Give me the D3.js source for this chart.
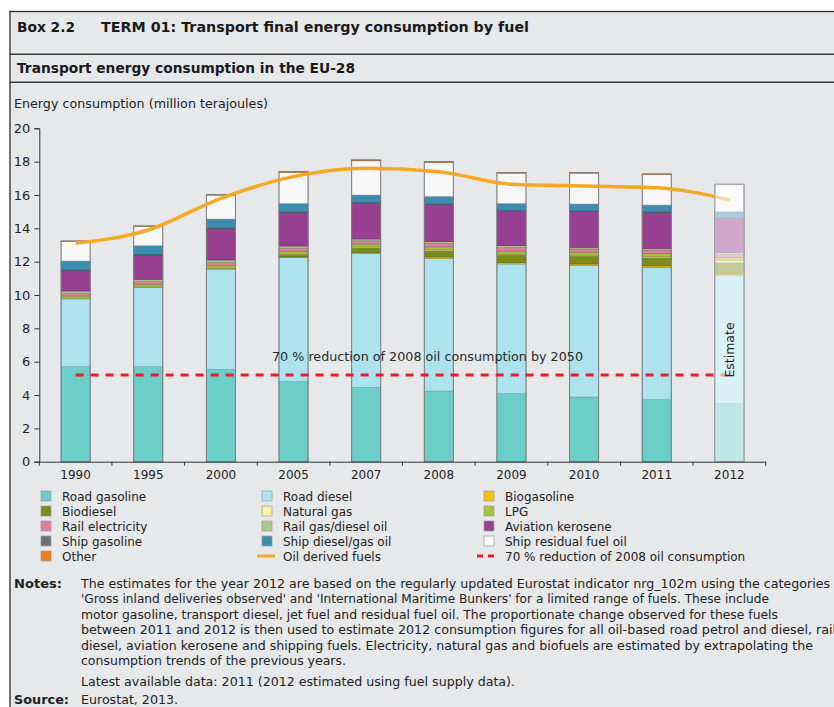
<!DOCTYPE html>
<html>
<head>
<meta charset="utf-8">
<script src="https://cdn.jsdelivr.net/npm/d3@7"></script>
<style>
  body { margin: 0; background: #fff; }
  svg { display: block; font-family: "DejaVu Sans", Verdana, sans-serif; }
</style>
</head>
<body>
<div id="chart"></div>
<script>
// categories
var years = ["1990", "1995", "2000", "2005", "2007", "2008", "2009", "2010", "2011", "2012"];

// series values (million terajoules)
var roadGasoline    = [5.70, 5.70, 5.54, 4.80, 4.46, 4.24, 4.08, 3.88, 3.72, 3.50];
var roadDiesel      = [4.06, 4.76, 6.02, 7.44, 8.04, 7.96, 7.78, 7.88, 7.94, 7.68];
var biogasoline     = [0.00, 0.00, 0.00, 0.04, 0.05, 0.08, 0.09, 0.10, 0.09, 0.08];
var biodiesel       = [0.00, 0.01, 0.02, 0.12, 0.30, 0.38, 0.45, 0.48, 0.50, 0.70];
var naturalGas      = [0.02, 0.02, 0.03, 0.04, 0.04, 0.05, 0.05, 0.05, 0.06, 0.10];
var lpg             = [0.16, 0.16, 0.17, 0.18, 0.17, 0.18, 0.19, 0.18, 0.19, 0.20];
var railElectricity = [0.15, 0.16, 0.18, 0.19, 0.19, 0.20, 0.20, 0.19, 0.20, 0.18];
var railDiesel      = [0.15, 0.13, 0.14, 0.13, 0.11, 0.11, 0.12, 0.10, 0.10, 0.10];
var aviation        = [1.24, 1.46, 1.90, 2.02, 2.18, 2.24, 2.10, 2.16, 2.16, 2.06];
var shipGasoline    = [0.02, 0.02, 0.02, 0.02, 0.02, 0.02, 0.02, 0.02, 0.02, 0.02];
var shipDiesel      = [0.54, 0.54, 0.54, 0.52, 0.44, 0.46, 0.42, 0.42, 0.42, 0.38];
var shipResidual    = [1.17, 1.15, 1.43, 1.86, 2.05, 2.03, 1.81, 1.85, 1.83, 1.62];
var other           = [0.03, 0.03, 0.03, 0.04, 0.05, 0.05, 0.03, 0.03, 0.03, 0.02];

var oilDerived = [13.1, 13.9, 15.8, 17.1, 17.6, 17.4, 16.64, 16.54, 16.44, 15.7];
var reduction2050 = 5.2;

var yTicks = [0, 2, 4, 6, 8, 10, 12, 14, 16, 18, 20];

var seriesNames = ["Road gasoline", "Road diesel", "Biogasoline", "Biodiesel", "Natural gas", "LPG",
  "Rail electricity", "Rail gas/diesel oil", "Aviation kerosene", "Ship gasoline",
  "Ship diesel/gas oil", "Ship residual fuel oil", "Other"];
var seriesValues = [roadGasoline, roadDiesel, biogasoline, biodiesel, naturalGas, lpg,
  railElectricity, railDiesel, aviation, shipGasoline, shipDiesel, shipResidual, other];
var seriesColors = ["#6dcdc9", "#ace3ee", "#f2c200", "#7b8b1f", "#faf3a2", "#a6c23c",
  "#e27ca3", "#a9c78f", "#973f91", "#6f6f73", "#3c8db0", "#f7f7f8", "#ee7d1e"];

var notes = [
  "The estimates for the year 2012 are based on the regularly updated Eurostat indicator nrg_102m using the categories",
  "'Gross inland deliveries observed' and 'International Maritime Bunkers' for a limited range of fuels. These include",
  "motor gasoline, transport diesel, jet fuel and residual fuel oil. The proportionate change observed for these fuels",
  "between 2011 and 2012 is then used to estimate 2012 consumption figures for all oil-based road petrol and diesel, rail",
  "diesel, aviation kerosene and shipping fuels. Electricity, natural gas and biofuels are estimated by extrapolating the",
  "consumption trends of the previous years."
];
var noteWidths = [749, 688, 697, 755, 732, 265];

var width = 834, height = 707;
var svg = d3.select("#chart").append("svg")
  .attr("width", width)
  .attr("height", height);

// box frame
svg.append("rect").attr("x", 10).attr("y", 11.5).attr("width", 840).attr("height", 720)
  .attr("fill", "#e7e8ea").attr("stroke", "#2b2b2b").attr("stroke-width", 1.3);
[54.3, 82.3].forEach(function (y) {
  svg.append("line").attr("x1", 10).attr("x2", 840).attr("y1", y).attr("y2", y)
    .attr("stroke", "#3a3a3a").attr("stroke-width", 1.5);
});

// header texts
svg.append("text").attr("x", 17).attr("y", 31.5).attr("font-size", 14).attr("font-weight", "bold")
  .attr("fill", "#1a1a1a").attr("textLength", 58).attr("lengthAdjust", "spacingAndGlyphs").text("Box 2.2");
svg.append("text").attr("x", 101).attr("y", 31.5).attr("font-size", 14).attr("font-weight", "bold")
  .attr("fill", "#1a1a1a").attr("textLength", 428).attr("lengthAdjust", "spacingAndGlyphs")
  .text("TERM 01: Transport final energy consumption by fuel");
svg.append("text").attr("x", 17).attr("y", 73).attr("font-size", 14).attr("font-weight", "bold")
  .attr("fill", "#1a1a1a").attr("textLength", 338).attr("lengthAdjust", "spacingAndGlyphs")
  .text("Transport energy consumption in the EU-28");
svg.append("text").attr("x", 14).attr("y", 108).attr("font-size", 12.5)
  .attr("fill", "#222").attr("textLength", 254).attr("lengthAdjust", "spacingAndGlyphs")
  .text("Energy consumption (million terajoules)");

// scales
var x = d3.scaleBand().domain(years).range([39.3, 765.7]).paddingInner(0.6).paddingOuter(0.3);
var y = d3.scaleLinear().domain([0, 20]).range([461.7, 128.3]);

// stacked data
var table = years.map(function (yr, i) {
  var row = {year: yr};
  seriesNames.forEach(function (name, k) { row[name] = seriesValues[k][i]; });
  return row;
});
var stack = d3.stack().keys(seriesNames)(table);
var color = d3.scaleOrdinal().domain(seriesNames).range(seriesColors);

var plot = svg.append("g");

stack.forEach(function (layer) {
  plot.append("g").selectAll("rect")
    .data(layer)
    .enter().append("rect")
      .attr("x", function (d) { return x(d.data.year); })
      .attr("y", function (d) { return y(d[1]); })
      .attr("width", x.bandwidth())
      .attr("height", function (d) { return Math.max(0, y(d[0]) - y(d[1])); })
      .attr("fill", color(layer.key))
      .attr("stroke", d3.color(color(layer.key)).darker(0.9))
      .attr("stroke-width", 0.6);
});

// bar outlines
plot.append("g").selectAll("rect")
  .data(table)
  .enter().append("rect")
    .attr("x", function (d) { return x(d.year); })
    .attr("y", function (d) { return y(d3.sum(seriesNames, function (n) { return d[n]; })); })
    .attr("width", x.bandwidth())
    .attr("height", function (d) { return y(0) - y(d3.sum(seriesNames, function (n) { return d[n]; })); })
    .attr("fill", "none")
    .attr("stroke", "#7d7d80")
    .attr("stroke-width", 1);

var cx = function (yr) { return x(yr) + x.bandwidth() / 2; };

// 70 % reduction line
plot.append("line")
  .attr("x1", cx(years[0])).attr("x2", cx(years[years.length - 1]))
  .attr("y1", y(reduction2050)).attr("y2", y(reduction2050))
  .attr("stroke", "#ea1c24").attr("stroke-width", 3)
  .attr("stroke-dasharray", "8,7");

// oil derived fuels line
var line = d3.line()
  .x(function (d, i) { return cx(years[i]); })
  .y(function (d) { return y(d); })
  .curve(d3.curveMonotoneX);
plot.append("path")
  .datum(oilDerived)
  .attr("d", line)
  .attr("fill", "none")
  .attr("stroke", "#f7a823")
  .attr("stroke-width", 3.5);

// estimate overlay on the 2012 bar
var last = table[table.length - 1];
var lastTotal = d3.sum(seriesNames, function (n) { return last[n]; });
plot.append("rect")
  .attr("x", x("2012")).attr("y", y(lastTotal))
  .attr("width", x.bandwidth()).attr("height", y(0) - y(lastTotal))
  .attr("fill", "#ffffff").attr("fill-opacity", 0.55)
  .attr("stroke", "#a9a9ad").attr("stroke-width", 1);
plot.append("text")
  .attr("transform", "translate(" + (cx("2012") + 4.5) + "," + y(6.7) + ") rotate(-90)")
  .attr("text-anchor", "middle")
  .attr("font-size", 12.5)
  .attr("fill", "#222")
  .text("Estimate");

plot.append("text")
  .attr("x", 272).attr("y", 361)
  .attr("font-size", 12.5).attr("fill", "#2a2a2a")
  .attr("textLength", 311).attr("lengthAdjust", "spacingAndGlyphs")
  .text("70 % reduction of 2008 oil consumption by 2050");

// y axis
var yAxis = svg.append("g")
  .attr("transform", "translate(39.3,0)")
  .call(d3.axisLeft(y).tickValues(yTicks).tickSize(5).tickPadding(4));
yAxis.select(".domain").attr("stroke", "#333");
yAxis.selectAll(".tick line").attr("stroke", "#333");
yAxis.selectAll(".tick text").attr("font-size", 13).attr("fill", "#222")
  .attr("font-family", "DejaVu Sans, Verdana, sans-serif");

// x axis: labels under the bars, tick marks between them
var xAxis = svg.append("g")
  .attr("transform", "translate(0," + y(0) + ")")
  .call(d3.axisBottom(x).tickSize(0).tickPadding(9).tickSizeOuter(0));
xAxis.select(".domain").attr("stroke", "#333");
xAxis.selectAll(".tick text").attr("font-size", 12).attr("fill", "#222")
  .attr("font-family", "DejaVu Sans, Verdana, sans-serif");
var bounds = years.map(function (yr) { return x(yr) - x.step() * x.paddingInner() / 2; });
bounds.push(x.range()[1]);
xAxis.selectAll("line.sep")
  .data(bounds)
  .enter().append("line")
    .attr("class", "sep")
    .attr("x1", function (d) { return d; }).attr("x2", function (d) { return d; })
    .attr("y1", 0).attr("y2", 4)
    .attr("stroke", "#333");

// legend
var legendItems = [
  {name: "Road gasoline", type: "box"}, {name: "Road diesel", type: "box"}, {name: "Biogasoline", type: "box"},
  {name: "Biodiesel", type: "box"}, {name: "Natural gas", type: "box"}, {name: "LPG", type: "box"},
  {name: "Rail electricity", type: "box"}, {name: "Rail gas/diesel oil", type: "box"}, {name: "Aviation kerosene", type: "box"},
  {name: "Ship gasoline", type: "box"}, {name: "Ship diesel/gas oil", type: "box"}, {name: "Ship residual fuel oil", type: "box"},
  {name: "Other", type: "box"}, {name: "Oil derived fuels", type: "line"},
  {name: "70 % reduction of 2008 oil consumption", type: "dash"}
];
var colX = [46, 267, 489];
var legend = svg.append("g");
var item = legend.selectAll("g")
  .data(legendItems)
  .enter().append("g")
    .attr("transform", function (d, i) {
      return "translate(" + colX[i % 3] + "," + (496 + Math.floor(i / 3) * 15) + ")";
    });
item.filter(function (d) { return d.type === "box"; })
  .append("rect")
    .attr("x", -5).attr("y", -5).attr("width", 10).attr("height", 10)
    .attr("fill", function (d) { return color(d.name); })
    .attr("stroke", "#9a9a9a").attr("stroke-width", 0.7);
item.filter(function (d) { return d.type === "line"; })
  .append("line")
    .attr("x1", -10).attr("x2", 8).attr("y1", 0).attr("y2", 0)
    .attr("stroke", "#f7a823").attr("stroke-width", 3);
item.filter(function (d) { return d.type === "dash"; })
  .append("line")
    .attr("x1", -12).attr("x2", 10).attr("y1", 0).attr("y2", 0)
    .attr("stroke", "#ea1c24").attr("stroke-width", 3).attr("stroke-dasharray", "6,5");
item.append("text")
  .attr("x", 16).attr("y", 4.5)
  .attr("font-size", 12).attr("fill", "#222")
  .text(function (d) { return d.name; });

// notes and source
svg.append("text").attr("x", 14).attr("y", 587.5).attr("font-size", 12.5).attr("font-weight", "bold")
  .attr("fill", "#222").attr("textLength", 48).attr("lengthAdjust", "spacingAndGlyphs").text("Notes:");
svg.append("g").selectAll("text")
  .data(notes)
  .enter().append("text")
    .attr("x", 81)
    .attr("y", function (d, i) { return 587.5 + i * 15.5; })
    .attr("font-size", 12.5).attr("fill", "#222")
    .attr("textLength", function (d, i) { return noteWidths[i]; })
    .attr("lengthAdjust", "spacingAndGlyphs")
    .text(function (d) { return d; });
svg.append("text").attr("x", 81).attr("y", 685.5).attr("font-size", 12.5).attr("fill", "#222")
  .attr("textLength", 434).attr("lengthAdjust", "spacingAndGlyphs")
  .text("Latest available data: 2011 (2012 estimated using fuel supply data).");
svg.append("text").attr("x", 14).attr("y", 703.5).attr("font-size", 12).attr("font-weight", "bold")
  .attr("fill", "#222").attr("textLength", 55).attr("lengthAdjust", "spacingAndGlyphs").text("Source:");
svg.append("text").attr("x", 81).attr("y", 703.5).attr("font-size", 12).attr("fill", "#222")
  .attr("textLength", 97).attr("lengthAdjust", "spacingAndGlyphs").text("Eurostat, 2013.");
</script>
</body>
</html>
